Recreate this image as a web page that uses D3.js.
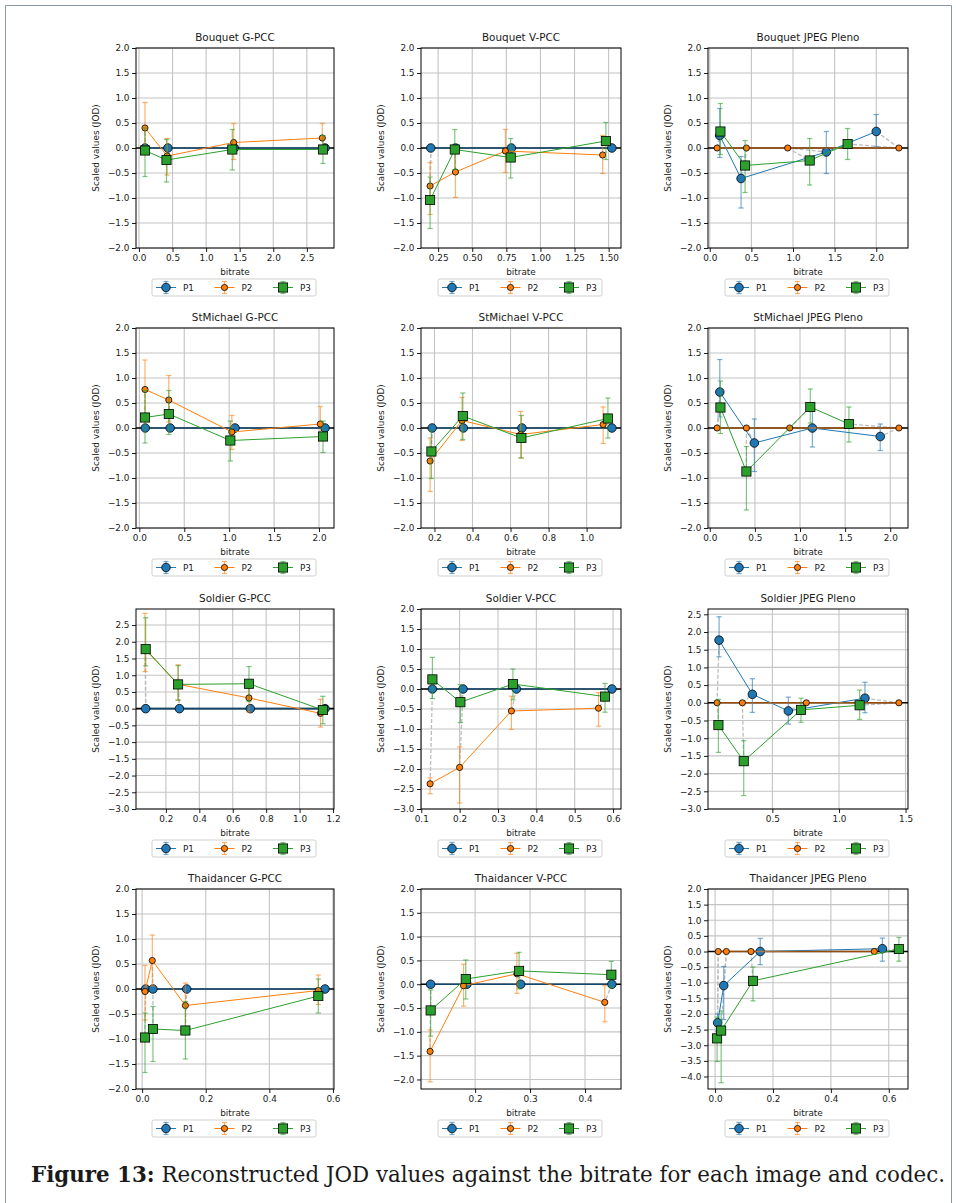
<!DOCTYPE html>
<html>
<head>
<meta charset="utf-8">
<script src="https://cdn.jsdelivr.net/npm/d3@7"></script>
<style>
body { margin: 0; background: #fff; }
svg text { font-family: "DejaVu Sans", sans-serif; fill: #1a1a1a; }
</style>
</head>
<body>
<svg id="fig" width="956" height="1203"></svg>
<script>
// series and panels
const seriesNames = ["P1", "P2", "P3"];
const seriesColors = ["#1f77b4", "#ff7f0e", "#2ca02c"];
const panelTitles = [
  "Bouquet G-PCC", "Bouquet V-PCC", "Bouquet JPEG Pleno",
  "StMichael G-PCC", "StMichael V-PCC", "StMichael JPEG Pleno",
  "Soldier G-PCC", "Soldier V-PCC", "Soldier JPEG Pleno",
  "Thaidancer G-PCC", "Thaidancer V-PCC", "Thaidancer JPEG Pleno"
];
const referenceSeries = [0, 0, 1, 0, 0, 1, 0, 0, 1, 0, 0, 1]; // which series is the zero line
const yLimits = [
  [-2, 2], [-2, 2], [-2, 2],
  [-2, 2], [-2, 2], [-2, 2],
  [-3, 2.98], [-3, 2], [-3, 2.65],
  [-2, 2], [-2.2, 2], [-4.4, 2]
];
const xTickStep = [0.5, 0.25, 0.5, 0.5, 0.2, 0.5, 0.2, 0.1, 0.5, 0.2, 0.1, 0.2];
const xTickDigits = [1, 2, 1, 1, 1, 1, 1, 1, 1, 1, 1, 1];
const zeros = [0, 0, 0, 0];

// Bouquet G-PCC
const bqGRate = [[0.09, 0.43, 1.42, 2.77], [0.09, 0.42, 1.41, 2.73], [0.09, 0.41, 1.39, 2.74]];
const bqGJod  = [zeros, [0.40, -0.16, 0.11, 0.20], [-0.05, -0.24, -0.03, -0.03]];
const bqGLow  = [zeros, [-0.11, -0.54, -0.23, -0.10], [-0.57, -0.68, -0.44, -0.31]];
const bqGHigh = [zeros, [0.91, 0.19, 0.49, 0.49], [0.40, 0.17, 0.37, 0.25]];

// Bouquet V-PCC
const bqVRate = [[0.196, 0.377, 0.787, 1.524], [0.191, 0.377, 0.743, 1.456], [0.191, 0.372, 0.782, 1.48]];
const bqVJod  = [zeros, [-0.76, -0.48, -0.06, -0.14], [-1.04, -0.03, -0.19, 0.14]];
const bqVLow  = [zeros, [-1.33, -0.99, -0.49, -0.51], [-1.61, -0.43, -0.60, -0.23]];
const bqVHigh = [zeros, [-0.29, 0.02, 0.37, 0.25], [-0.58, 0.37, 0.19, 0.51]];

// Bouquet JPEG Pleno
const bqJRate = [[0.12, 0.376, 1.40, 2.0], [0.088, 0.44, 0.936, 2.272], [0.128, 0.424, 1.20, 1.656]];
const bqJJod  = [[0.25, -0.61, -0.08, 0.33], zeros, [0.33, -0.35, -0.25, 0.08]];
const bqJLow  = [[-0.19, -1.20, -0.51, 0.02], zeros, [-0.13, -0.89, -0.74, -0.23]];
const bqJHigh = [[0.79, -0.17, 0.33, 0.67], zeros, [0.89, 0.15, 0.19, 0.39]];

// StMichael G-PCC
const smGRate = [[0.066, 0.343, 1.065, 2.067], [0.063, 0.328, 1.03, 2.015], [0.063, 0.328, 1.013, 2.045]];
const smGJod  = [zeros, [0.77, 0.56, -0.08, 0.08], [0.21, 0.28, -0.25, -0.17]];
const smGLow  = [zeros, [0.17, 0.12, -0.43, -0.25], [-0.30, -0.13, -0.66, -0.49]];
const smGHigh = [zeros, [1.36, 1.05, 0.25, 0.43], [0.75, 0.75, 0.14, 0.14]];

// StMichael V-PCC
const smVRate = [[0.188, 0.352, 0.66, 1.133], [0.177, 0.345, 0.653, 1.087], [0.184, 0.349, 0.657, 1.112]];
const smVJod  = [zeros, [-0.66, 0.15, -0.13, 0.07], [-0.47, 0.24, -0.20, 0.19]];
const smVLow  = [zeros, [-1.27, -0.25, -0.60, -0.31], [-1.01, -0.23, -0.60, -0.20]];
const smVHigh = [zeros, [-0.20, 0.61, 0.33, 0.42], [-0.05, 0.70, 0.25, 0.60]];

// StMichael JPEG Pleno
const smJRate = [[0.111, 0.494, 1.137, 1.889], [0.081, 0.406, 0.886, 2.096], [0.118, 0.406, 1.114, 1.542]];
const smJJod  = [[0.72, -0.30, 0.0, -0.17], zeros, [0.41, -0.87, 0.42, 0.08]];
const smJLow  = [[0.22, -0.87, -0.38, -0.45], zeros, [-0.11, -1.64, 0.10, -0.28]];
const smJHigh = [[1.37, 0.18, 0.38, 0.08], zeros, [0.94, -0.37, 0.78, 0.42]];

// Soldier G-PCC
const soGRate = [[0.079, 0.281, 0.705, 1.152], [0.075, 0.273, 0.697, 1.125], [0.079, 0.273, 0.697, 1.139]];
const soGJod  = [zeros, [1.78, 0.73, 0.32, -0.14], [1.78, 0.725, 0.745, -0.04]];
const soGLow  = [zeros, [1.11, 0.26, -0.10, -0.55], [1.28, 0.25, 0.22, -0.45]];
const soGHigh = [zeros, [2.85, 1.31, 0.75, 0.28], [2.72, 1.29, 1.26, 0.37]];

// Soldier V-PCC
const soVRate = [[0.129, 0.209, 0.348, 0.597], [0.123, 0.2, 0.335, 0.562], [0.129, 0.202, 0.339, 0.579]];
const soVJod  = [zeros, [-2.37, -1.96, -0.55, -0.48], [0.24, -0.33, 0.125, -0.19]];
const soVLow  = [zeros, [-2.62, -2.85, -1.01, -0.93], [-0.24, -0.84, -0.27, -0.58]];
const soVHigh = [zeros, [-2.22, -1.45, -0.18, -0.09], [0.79, 0.11, 0.50, 0.14]];

// Soldier JPEG Pleno
const soJRate = [[0.1, 0.35, 0.62, 1.195], [0.085, 0.275, 0.755, 1.45], [0.095, 0.285, 0.715, 1.155]];
const soJJod  = [[1.77, 0.24, -0.23, 0.13], zeros, [-0.63, -1.65, -0.20, -0.07]];
const soJLow  = [[1.30, -0.27, -0.60, -0.28], zeros, [-1.40, -2.62, -0.55, -0.47]];
const soJHigh = [[2.43, 0.68, 0.16, 0.58], zeros, [0.10, -1.07, 0.13, 0.36]];

// Thaidancer G-PCC
const thGRate = [[0.011, 0.034, 0.14, 0.575], [0.009, 0.032, 0.136, 0.554], [0.009, 0.034, 0.136, 0.554]];
const thGJod  = [zeros, [-0.05, 0.57, -0.33, -0.03], [-0.97, -0.80, -0.83, -0.14]];
const thGLow  = [zeros, [-0.62, 0.06, -0.78, -0.31], [-1.67, -1.45, -1.40, -0.48]];
const thGHigh = [zeros, [0.47, 1.08, 0.12, 0.28], [-0.48, -0.35, -0.25, 0.20]];

// Thaidancer V-PCC
const thVRate = [[0.119, 0.185, 0.283, 0.449], [0.118, 0.179, 0.276, 0.436], [0.119, 0.183, 0.28, 0.448]];
const thVJod  = [zeros, [-1.41, -0.03, 0.22, -0.38], [-0.55, 0.11, 0.28, 0.20]];
const thVLow  = [zeros, [-2.05, -0.46, -0.19, -0.79], [-1.09, -0.31, -0.10, -0.07]];
const thVHigh = [zeros, [-0.96, 0.42, 0.65, -0.03], [-0.12, 0.51, 0.67, 0.48]];

// Thaidancer JPEG Pleno
const thJRate = [[0.009, 0.03, 0.156, 0.578], [0.011, 0.039, 0.124, 0.55], [0.007, 0.021, 0.131, 0.635]];
const thJJod  = [[-2.28, -1.09, 0.0, 0.09], zeros, [-2.78, -2.53, -0.94, 0.08]];
const thJLow  = [[-2.55, -2.18, -0.42, -0.31], zeros, [-3.52, -4.2, -1.58, -0.31]];
const thJHigh = [[-2.0, -0.48, 0.42, 0.43], zeros, [-2.1, -1.9, -0.50, 0.45]];

const panelRates = [bqGRate, bqVRate, bqJRate, smGRate, smVRate, smJRate, soGRate, soVRate, soJRate, thGRate, thVRate, thJRate];
const panelJods  = [bqGJod, bqVJod, bqJJod, smGJod, smVJod, smJJod, soGJod, soVJod, soJJod, thGJod, thVJod, thJJod];
const panelLows  = [bqGLow, bqVLow, bqJLow, smGLow, smVLow, smJLow, soGLow, soVLow, soJLow, thGLow, thVLow, thJLow];
const panelHighs = [bqGHigh, bqVHigh, bqJHigh, smGHigh, smVHigh, smJHigh, soGHigh, soVHigh, soJHigh, thGHigh, thVHigh, thJHigh];

const captionBold = "Figure 13:";
const captionText = " Reconstructed JOD values against the bitrate for each image and codec.";

// layout
const colLeft = [136, 421, 708];
const colWidth = [198, 200, 200];
const rowTop = [48, 328, 609, 889];
const plotH = 200;
const fontTick = 8.9;

const svg = d3.select("#fig");

// page frame
svg.append("path")
  .attr("d", "M5.5,1203 V5.5 H951.5 V1203")
  .attr("fill", "none")
  .attr("stroke", "#8a96a3")
  .attr("stroke-width", 1);

function drawMarker(sel, s, cx, cy) {
  if (s === 2) {
    sel.append("rect")
      .attr("x", cx - 4.6).attr("y", cy - 4.6)
      .attr("width", 9.2).attr("height", 9.2)
      .attr("fill", seriesColors[s]).attr("stroke", "#000").attr("stroke-width", 0.8);
  } else {
    sel.append("circle")
      .attr("cx", cx).attr("cy", cy)
      .attr("r", s === 0 ? 4.3 : 3.1)
      .attr("fill", seriesColors[s]).attr("stroke", "#000").attr("stroke-width", 0.8);
  }
}

function drawPanel(i) {
  const left = colLeft[i % 3], top = rowTop[Math.floor(i / 3)];
  const w = colWidth[i % 3], h = plotH;
  const rates = panelRates[i], jods = panelJods[i], lows = panelLows[i], highs = panelHighs[i];
  const ref = referenceSeries[i];

  const allX = rates.flat();
  const xmin = d3.min(allX), xmax = d3.max(allX), span = xmax - xmin;
  const x = d3.scaleLinear().domain([xmin - 0.05 * span, xmax + 0.05 * span]).range([0, w]);
  const y = d3.scaleLinear().domain(yLimits[i]).range([h, 0]);

  const step = xTickStep[i];
  const xTicks = d3.range(Math.ceil(x.domain()[0] / step - 1e-9), Math.floor(x.domain()[1] / step + 1e-9) + 1)
    .map(k => +(k * step).toFixed(3));
  const yTicks = d3.range(Math.ceil(yLimits[i][0] / 0.5 - 1e-9), Math.floor(yLimits[i][1] / 0.5 + 1e-9) + 1)
    .map(k => k * 0.5);

  const g = svg.append("g").attr("transform", `translate(${left},${top})`);

  g.append("clipPath").attr("id", "clip" + i)
    .append("rect").attr("width", w).attr("height", h);

  // grid
  const grid = g.append("g");
  grid.selectAll(".gx").data(xTicks).enter().append("line")
    .attr("x1", d => x(d)).attr("x2", d => x(d)).attr("y1", 0).attr("y2", h)
    .attr("stroke", "#c4c4c4").attr("stroke-width", 1.1);
  grid.selectAll(".gy").data(yTicks).enter().append("line")
    .attr("y1", d => y(d)).attr("y2", d => y(d)).attr("x1", 0).attr("x2", w)
    .attr("stroke", "#c4c4c4").attr("stroke-width", 1.1);

  const plot = g.append("g").attr("clip-path", `url(#clip${i})`);

  // dashed connectors from reference point to the other series at each level
  rates[ref].forEach((rx, k) => {
    [0, 1, 2].filter(s => s !== ref).forEach(s => {
      plot.append("line")
        .attr("x1", x(rx)).attr("y1", y(jods[ref][k]))
        .attr("x2", x(rates[s][k])).attr("y2", y(jods[s][k]))
        .attr("stroke", "#bdbdbd").attr("stroke-width", 1.3)
        .attr("stroke-dasharray", "4,2");
    });
  });

  // zero line
  plot.append("line")
    .attr("x1", 0).attr("x2", w).attr("y1", y(0)).attr("y2", y(0))
    .attr("stroke", "#000").attr("stroke-width", 1.6);

  const line = d3.line().x(d => x(d[0])).y(d => y(d[1]));

  [0, 1, 2].forEach(s => {
    const pts = rates[s].map((rx, k) => [rx, jods[s][k]]);
    // error bars
    rates[s].forEach((rx, k) => {
      if (lows[s][k] === highs[s][k]) return;
      const eb = plot.append("g")
        .attr("stroke", seriesColors[s]).attr("stroke-width", 1.2).attr("stroke-opacity", 0.6);
      eb.append("line").attr("x1", x(rx)).attr("x2", x(rx))
        .attr("y1", y(lows[s][k])).attr("y2", y(highs[s][k]));
      [lows[s][k], highs[s][k]].forEach(v => {
        eb.append("line").attr("x1", x(rx) - 2.6).attr("x2", x(rx) + 2.6)
          .attr("y1", y(v)).attr("y2", y(v));
      });
    });
    plot.append("path").datum(pts)
      .attr("d", line).attr("fill", "none")
      .attr("stroke", seriesColors[s])
      .attr("stroke-width", s === ref ? 1.6 : 1)
      .attr("stroke-opacity", s === ref ? 0.6 : 1);
    pts.forEach(p => drawMarker(plot, s, x(p[0]), y(p[1])));
  });

  // axes
  const xAxis = g.append("g").attr("transform", `translate(0,${h})`)
    .call(d3.axisBottom(x).tickValues(xTicks).tickFormat(d3.format(`.${xTickDigits[i]}f`)).tickSize(4).tickPadding(2.5));
  const yAxis = g.append("g")
    .call(d3.axisLeft(y).tickValues(yTicks).tickFormat(d3.format(".1f")).tickSize(4).tickPadding(2.5));
  [xAxis, yAxis].forEach(a => {
    a.select(".domain").remove();
    a.selectAll("text").style("font-size", fontTick + "px")
      .style("font-family", "'DejaVu Sans', sans-serif").attr("fill", "#1a1a1a");
    a.selectAll("line").attr("stroke", "#000").attr("stroke-width", 0.9);
  });

  g.append("rect").attr("width", w).attr("height", h)
    .attr("fill", "none").attr("stroke", "#000").attr("stroke-width", 1);

  // labels
  g.append("text").attr("x", w / 2).attr("y", -7)
    .attr("text-anchor", "middle").style("font-size", "10.4px")
    .text(panelTitles[i]);
  g.append("text").attr("x", w / 2).attr("y", h + 26.5)
    .attr("text-anchor", "middle").style("font-size", fontTick + "px")
    .text("bitrate");
  g.append("text").attr("transform", `translate(-37,${h / 2}) rotate(-90)`)
    .attr("text-anchor", "middle").style("font-size", fontTick + "px")
    .text("Scaled values (JOD)");

  // legend
  const lw = 164, lh = 17;
  const lg = g.append("g").attr("transform", `translate(${w / 2 - 1 - lw / 2},${h + 31})`);
  lg.append("rect").attr("width", lw).attr("height", lh).attr("rx", 2)
    .attr("fill", "#fff").attr("fill-opacity", 0.8)
    .attr("stroke", "#cccccc").attr("stroke-width", 0.9);
  seriesNames.forEach((name, s) => {
    const ex = 4 + s * 58.5, cy = lh / 2;
    lg.append("line").attr("x1", ex).attr("x2", ex + 20).attr("y1", cy).attr("y2", cy)
      .attr("stroke", seriesColors[s]).attr("stroke-width", 1);
    const eb = lg.append("g").attr("stroke", seriesColors[s]).attr("stroke-width", 1.2).attr("stroke-opacity", 0.6);
    eb.append("line").attr("x1", ex + 10).attr("x2", ex + 10).attr("y1", cy - 6).attr("y2", cy + 6);
    [cy - 6, cy + 6].forEach(v => eb.append("line").attr("x1", ex + 7.4).attr("x2", ex + 12.6).attr("y1", v).attr("y2", v));
    drawMarker(lg, s, ex + 10, cy);
    lg.append("text").attr("x", ex + 27).attr("y", cy + 3.2)
      .style("font-size", fontTick + "px").text(name);
  });
}

d3.range(12).forEach(drawPanel);

// caption
const cap = svg.append("text").attr("x", 31).attr("y", 1182)
  .style("font-family", "'DejaVu Serif', serif").style("font-size", "20px");
cap.append("tspan").style("font-weight", "bold").text(captionBold);
cap.append("tspan").text(captionText);
const capLen = cap.node().getComputedTextLength();
cap.style("font-size", (20 * 914 / capLen).toFixed(2) + "px");
</script>
</body>
</html>
